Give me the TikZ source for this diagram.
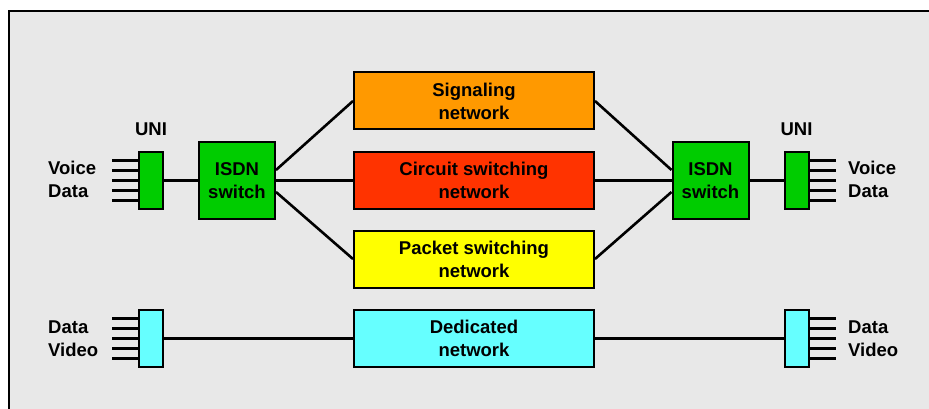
\documentclass[tikz,border=0pt]{standalone}
\usepackage{fontspec}
\setmainfont{Liberation Sans}
\usetikzlibrary{positioning}

\definecolor{panel}{HTML}{E8E8E8}
\definecolor{sigfill}{HTML}{FF9900}
\definecolor{cirfill}{HTML}{FF3300}
\definecolor{pktfill}{HTML}{FFFF00}
\definecolor{swfill}{HTML}{00CC00}
\definecolor{dedfill}{HTML}{66FFFF}

\begin{document}
\begin{tikzpicture}[x=1pt,y=-1pt,
	boxtext/.style={font=\bfseries\fontsize{18.5}{23}\selectfont},
	netbox/.style={boxtext,draw=black,line width=2pt,minimum width=240pt,minimum height=57pt,align=center,inner sep=0pt},
	switchbox/.style={boxtext,draw=black,line width=2pt,fill=swfill,minimum width=76pt,minimum height=77pt,align=center,inner sep=0pt},
	unibox/.style={draw=black,line width=2pt,minimum width=24pt,minimum height=57pt,inner sep=0pt},
	lbl/.style={boxtext,inner sep=0pt},
	link/.style={line width=2.6pt},
	stub/.style={line width=3pt}]
	% Fix the page to the reference size.
	\useasboundingbox (0,0) rectangle (929,409);
	\clip (0,0) rectangle (929,409);
	
	% Grey panel with its frame.
	\draw[fill=panel,line width=2pt] (9,11) rectangle (945,425);
	
	% Networks in the middle.
	\node[netbox,fill=sigfill] (sig) at (474,101) {Signaling\\network};
	\node[netbox,fill=cirfill] (cir) at (474,180.5) {Circuit switching\\network};
	\node[netbox,fill=pktfill] (pkt) at (474,259) {Packet switching\\network};
	\node[netbox,fill=dedfill] (ded) at (474,338.5) {Dedicated\\network};
	
	% ISDN switches.
	\node[switchbox] (swl) at (237,180.5) {ISDN\\switch};
	\node[switchbox] (swr) at (710.5,180.5) {ISDN\\switch};
	
	% User-network interfaces.
	\node[unibox,fill=swfill] (unil) at (151,180.5) {};
	\node[unibox,fill=swfill] (unir) at (796.5,180.5) {};
	\node[unibox,fill=dedfill] (dedl) at (151,338.5) {};
	\node[unibox,fill=dedfill] (dedr) at (796.5,338.5) {};
	
	\node[lbl,above=15pt of unil] (unilbl) {UNI};
	\node[lbl,above=15pt of unir] (unirlbl) {UNI};
	
	% Stubs on the interfaces.
	\foreach \k in {-2,...,2}{
		\draw[stub] ([yshift=\k*9.75pt]unil.west) -- ++(-26,0);
		\draw[stub] ([yshift=\k*9.75pt]unir.east) -- ++(26,0);
		\draw[stub] ([yshift=\k*10pt]dedl.west) -- ++(-26,0);
		\draw[stub] ([yshift=\k*10pt]dedr.east) -- ++(26,0);
	}
	
	% Channel labels.
	\node[lbl,anchor=west,align=left] (vdl) at (48,179) {Voice\\Data};
	\node[lbl,anchor=west,align=left] (vdr) at (848,179) {Voice\\Data};
	\node[lbl,anchor=west,align=left] (dvl) at (48,338.5) {Data\\Video};
	\node[lbl,anchor=west,align=left] (dvr) at (848,338.5) {Data\\Video};
	
	% Connections.
	\draw[link] (unil) -- (swl);
	\draw[link] (swl) -- (cir);
	\draw[link] (cir) -- (swr);
	\draw[link] (swr) -- (unir);
	\draw[link] ([yshift=10.5pt]swl.east) -- (sig.west);
	\draw[link] ([yshift=-11.5pt]swl.east) -- (pkt.west);
	\draw[link] (sig.east) -- ([yshift=10.5pt]swr.west);
	\draw[link] (pkt.east) -- ([yshift=-11.5pt]swr.west);
	\draw[link] (dedl) -- (ded);
	\draw[link] (ded) -- (dedr);
\end{tikzpicture}
\end{document}
